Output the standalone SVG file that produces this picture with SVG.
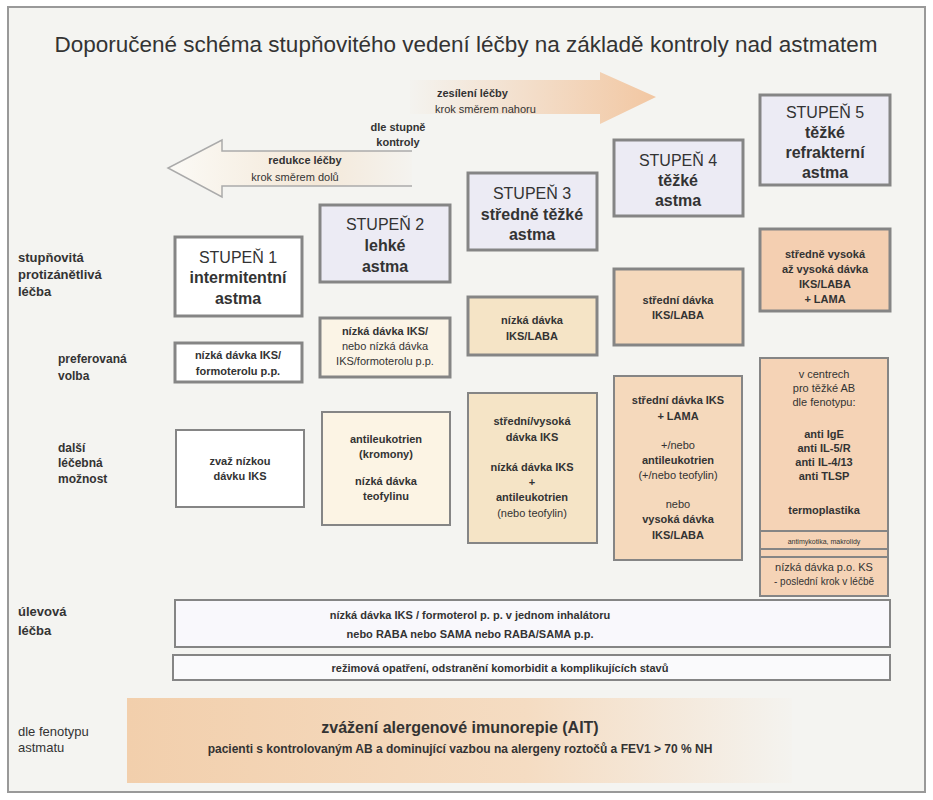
<svg xmlns="http://www.w3.org/2000/svg" width="933" height="800" viewBox="0 0 933 800">
<defs>
<linearGradient id="gUp" x1="0" x2="1" y1="0" y2="0"><stop offset="0" stop-color="#f4f3ef"/><stop offset="1" stop-color="#f2c7a2"/></linearGradient>
<linearGradient id="gDown" x1="0" x2="1" y1="0" y2="0"><stop offset="0" stop-color="#fbfaf6"/><stop offset="0.6" stop-color="#f4e8d8"/><stop offset="1" stop-color="#f4f3ef"/></linearGradient>
<linearGradient id="gAit" x1="0" x2="1" y1="0" y2="0"><stop offset="0" stop-color="#f2cfac"/><stop offset="0.6" stop-color="#f5dcc2"/><stop offset="1" stop-color="#f4f3ef"/></linearGradient>
<style>
text{font-family:"Liberation Sans",Arial,sans-serif;fill:#333;text-anchor:middle}
.st{fill:#ecebf4;stroke:#858585;stroke-width:3}
.w{fill:#fff;stroke:#858585;stroke-width:3}
.b{font-weight:bold}
.h{font-size:16px}
.s{font-size:11px}
.lab{font-size:13px;font-weight:bold;text-anchor:start}
.box{stroke:#858585;stroke-width:2}
</style>
</defs>
<rect width="933" height="800" fill="#ffffff"/>
<rect x="8" y="7" width="917" height="785" fill="#f4f4f1" stroke="#999" stroke-width="2"/>
<text x="466" y="52" font-size="22.5" fill="#222">Doporučené schéma stupňovitého vedení léčby na základě kontroly nad astmatem</text>

<g id="arrows">
<path d="M410 80 H600 V72 L656 97 L600 124 V114 H410 Z" fill="url(#gUp)"/>
<path d="M412 151 H222 V140 L168 168 L222 197 V186 H412" fill="url(#gDown)" stroke="#aaa" stroke-width="1.5"/>
<text x="437" y="97" font-size="11" class="b" style="text-anchor:start">zesílení léčby</text>
<text x="435" y="113" font-size="11" style="text-anchor:start">krok směrem nahoru</text>
<text x="398" y="131" font-size="11" class="b">dle stupně</text>
<text x="398" y="146" font-size="11" class="b">kontroly</text>
<text x="305" y="164" font-size="11" class="b">redukce léčby</text>
<text x="295" y="181" font-size="11">krok směrem dolů</text>
</g>

<g id="labels">
<text class="lab" x="18" y="262">stupňovitá</text>
<text class="lab" x="18" y="279">protizánětlivá</text>
<text class="lab" x="18" y="296">léčba</text>
<text class="lab" x="58" y="363" style="font-size:12px">preferovaná</text>
<text class="lab" x="58" y="380" style="font-size:12px">volba</text>
<text class="lab" x="58" y="452" style="font-size:12px">další</text>
<text class="lab" x="58" y="467" style="font-size:12px">léčebná</text>
<text class="lab" x="58" y="483" style="font-size:12px">možnost</text>
<text class="lab" x="18" y="616">úlevová</text>
<text class="lab" x="18" y="635">léčba</text>
<text class="lab" x="18" y="736" style="font-weight:normal">dle fenotypu</text>
<text class="lab" x="18" y="752" style="font-weight:normal">astmatu</text>
</g>

<g id="step1">
<rect class="w" x="175" y="237" width="127" height="79"/>
<text x="238" y="263" class="h">STUPEŇ 1</text>
<text x="238" y="283" class="h b">intermitentní</text>
<text x="238" y="304" class="h b">astma</text>
</g>
<g id="step2">
<rect class="st" x="320" y="205" width="130" height="77"/>
<text x="385" y="230" class="h">STUPEŇ 2</text>
<text x="385" y="251" class="h b">lehké</text>
<text x="385" y="272" class="h b">astma</text>
</g>
<g id="step3">
<rect class="st" x="468" y="173" width="129" height="77"/>
<text x="532" y="199" class="h">STUPEŇ 3</text>
<text x="532" y="220" class="h b">středně těžké</text>
<text x="532" y="240" class="h b">astma</text>
</g>
<g id="step4">
<rect class="st" x="614" y="140" width="129" height="76"/>
<text x="678" y="166" class="h">STUPEŇ 4</text>
<text x="678" y="186" class="h b">těžké</text>
<text x="678" y="206" class="h b">astma</text>
</g>
<g id="step5">
<rect class="st" x="760" y="95" width="130" height="90"/>
<text x="825" y="118" class="h">STUPEŇ 5</text>
<text x="825" y="138" class="h b">těžké</text>
<text x="825" y="158" class="h b">refrakterní</text>
<text x="825" y="178" class="h b">astma</text>
</g>

<g id="pref1">
<rect class="w" x="175" y="343" width="127" height="39"/>
<text x="238" y="359" class="s b">nízká dávka IKS/</text>
<text x="238" y="375" class="s b">formoterolu p.p.</text>
</g>
<g id="pref2">
<rect x="320" y="318" width="130" height="59" fill="#fbf4e6" stroke="#858585" stroke-width="3"/>
<text x="385" y="335" class="s b">nízká dávka IKS/</text>
<text x="385" y="350" class="s">nebo nízká dávka</text>
<text x="385" y="365" class="s">IKS/formoterolu p.p.</text>
</g>
<g id="pref3">
<rect x="468" y="297" width="129" height="58" fill="#f5e4c6" stroke="#858585" stroke-width="3"/>
<text x="532" y="324" class="s b">nízká dávka</text>
<text x="532" y="340" class="s b">IKS/LABA</text>
</g>
<g id="pref4">
<rect x="614" y="269" width="129" height="76" fill="#f5d9bc" stroke="#858585" stroke-width="3"/>
<text x="678" y="304" class="s b">střední dávka</text>
<text x="678" y="319" class="s b">IKS/LABA</text>
</g>
<g id="pref5">
<rect x="760" y="229" width="130" height="82" fill="#f4cfb1" stroke="#858585" stroke-width="3"/>
<text x="825" y="258" class="s b">středně vysoká</text>
<text x="825" y="273" class="s b">až vysoká dávka</text>
<text x="825" y="288" class="s b">IKS/LABA</text>
<text x="825" y="303" class="s b">+ LAMA</text>
</g>

<g id="opt1">
<rect class="box" x="176" y="430" width="128" height="77" fill="#fff"/>
<text x="240" y="465" class="s b">zvaž nízkou</text>
<text x="240" y="480" class="s b">dávku IKS</text>
</g>
<g id="opt2">
<rect class="box" x="322" y="412" width="128" height="113" fill="#fcf4e4"/>
<text x="386" y="443" class="s b">antileukotrien</text>
<text x="386" y="458" class="s b">(kromony)</text>
<text x="386" y="485" class="s b">nízká dávka</text>
<text x="386" y="500" class="s b">teofylinu</text>
</g>
<g id="opt3">
<rect class="box" x="468" y="393" width="129" height="150" fill="#f5e4c6"/>
<text x="532" y="425" class="s b">střední/vysoká</text>
<text x="532" y="441" class="s b">dávka IKS</text>
<text x="532" y="471" class="s b">nízká dávka IKS</text>
<text x="532" y="486" class="s b">+</text>
<text x="532" y="501" class="s b">antileukotrien</text>
<text x="532" y="517" class="s">(nebo teofylin)</text>
</g>
<g id="opt4">
<rect class="box" x="614" y="376" width="128" height="184" fill="#f5d9bc"/>
<text x="678" y="404" class="s b">střední dávka IKS</text>
<text x="678" y="420" class="s b">+ LAMA</text>
<text x="678" y="449" class="s">+/nebo</text>
<text x="678" y="464" class="s b">antileukotrien</text>
<text x="678" y="479" class="s">(+/nebo teofylin)</text>
<text x="678" y="508" class="s">nebo</text>
<text x="678" y="523" class="s b">vysoká dávka</text>
<text x="678" y="539" class="s b">IKS/LABA</text>
</g>
<g id="opt5">
<rect class="box" x="760" y="358" width="128" height="238" fill="#f5d3b6"/>
<line x1="760" y1="531" x2="888" y2="531" stroke="#858585" stroke-width="2"/>
<line x1="760" y1="549" x2="888" y2="549" stroke="#858585" stroke-width="2"/>
<line x1="760" y1="557" x2="888" y2="557" stroke="#858585" stroke-width="2"/>
<text x="824" y="378" class="s">v centrech</text>
<text x="824" y="392" class="s">pro těžké AB</text>
<text x="824" y="406" class="s">dle fenotypu:</text>
<text x="824" y="438" class="s b">anti IgE</text>
<text x="824" y="452" class="s b">anti IL-5/R</text>
<text x="824" y="466" class="s b">anti IL-4/13</text>
<text x="824" y="480" class="s b">anti TLSP</text>
<text x="824" y="514" class="s b">termoplastika</text>
<text x="824" y="544" font-size="7">antimykotika, makrolidy</text>
<text x="824" y="571" class="s">nízká dávka p.o. KS</text>
<text x="824" y="585" font-size="10">- poslední krok v léčbě</text>
</g>

<g id="relief">
<rect class="box" x="175" y="600" width="715" height="47" fill="#f9f8fc"/>
<text x="470" y="619" class="s b">nízká dávka IKS / formoterol p. p. v jednom inhalátoru</text>
<text x="470" y="638" class="s b">nebo RABA  nebo SAMA nebo RABA/SAMA p.p.</text>
</g>
<g id="regime">
<rect class="box" x="173" y="655" width="717" height="25" fill="#fafafc"/>
<text x="500" y="672" class="s b">režimová opatření, odstranění komorbidit a komplikujících stavů</text>
</g>
<g id="ait">
<rect x="127" y="698" width="665" height="85" fill="url(#gAit)"/>
<text x="460" y="733" font-size="16" class="b">zvážení alergenové imunorepie (AIT)</text>
<text x="460" y="753" font-size="12" class="b">pacienti s kontrolovaným AB a dominující vazbou na alergeny roztočů a FEV1 &gt; 70 % NH</text>
</g>
<g id="connectors"/>
</svg>
